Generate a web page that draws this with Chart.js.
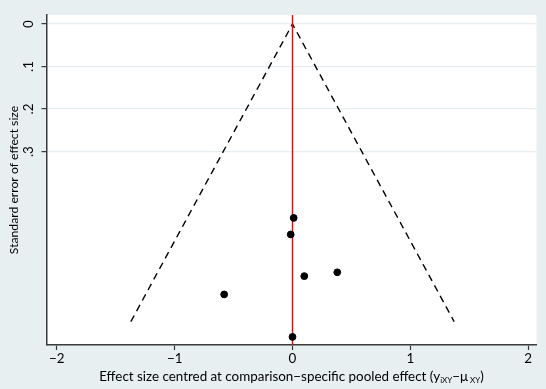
<!DOCTYPE html>
<html>
<head>
<meta charset="utf-8">
<script src="https://cdn.jsdelivr.net/npm/chart.js@4"></script>
<style>
  html, body { margin: 0; padding: 0; background: #e8eff1; }
  canvas { display: block; }
</style>
</head>
<body>
<canvas id="chart" width="546" height="389"></canvas>
<script>
  // 研究ごとの効果量（比較別プール効果で中心化）と標準誤差
  var studyEffect = [0.01, -0.015, 0.10, 0.38, -0.58, 0.0];
  var studyError = [0.456, 0.495, 0.593, 0.584, 0.636, 0.736];

  // ファンネル（擬似95%信頼限界）
  var funnelX = [-1.372, 0, 1.372];
  var funnelY = [0.70, 0, 0.70];

  // 目盛
  var xTicks = [-2, -1, 0, 1, 2];
  var yTicks = [0, 0.1, 0.2, 0.3];

  var xRange = [-2.088, 2.071];
  var yRange = [-0.0212, 0.755];

  var BG = '#e8eff1';
  var AXIS = '#3a3a3a';
  var FONT = 'Lato';

  function toPoints(xs, ys) {
    return xs.map(function(x, i) { return { x: x, y: ys[i] }; });
  }

  function minus(v) {
    return v < 0 ? '\u2212' + Math.abs(v) : String(v);
  }

  /** 背景とプロット領域 */
  var backgroundPlugin = {
    id: 'stataBackground',
    beforeDraw: function(chart) {
      var ctx = chart.ctx;
      var a = chart.chartArea;
      ctx.save();
      ctx.fillStyle = BG;
      ctx.fillRect(0, 0, chart.width, chart.height);
      ctx.fillStyle = '#ffffff';
      ctx.fillRect(a.left, a.top, a.right - a.left, a.bottom - a.top);
      ctx.restore();
    }
  };

  /** x軸タイトル（添字つき） */
  var xTitlePlugin = {
    id: 'xTitle',
    afterDraw: function(chart) {
      var ctx = chart.ctx;
      var a = chart.chartArea;
      var parts = [
        { t: 'Effect size centred at comparison\u2212specific pooled effect (y', s: 13.4, dy: 0 },
        { t: 'iXY', s: 8, dy: 2 },
        { t: '\u2212\u03bc', s: 13.4, dy: 0 },
        { t: ' XY', s: 8, dy: 2 },
        { t: ')', s: 13.4, dy: 0 }
      ];
      ctx.save();
      ctx.fillStyle = '#000';
      ctx.textBaseline = 'alphabetic';
      ctx.textAlign = 'left';
      var total = 0;
      parts.forEach(function(p) {
        ctx.font = p.s + 'px ' + FONT;
        p.w = ctx.measureText(p.t).width;
        total += p.w;
      });
      var x = (a.left + a.right) / 2 - total / 2;
      var y = 381;
      parts.forEach(function(p) {
        ctx.font = p.s + 'px ' + FONT;
        ctx.fillText(p.t, x, y + p.dy);
        x += p.w;
      });
      ctx.restore();
    }
  };

  new Chart(document.getElementById('chart'), {
    type: 'scatter',
    data: {
      datasets: [
        {
          label: 'studies',
          data: toPoints(studyEffect, studyError),
          backgroundColor: '#000',
          borderColor: '#000',
          pointRadius: 3.4,
          order: 0
        },
        {
          label: 'null',
          data: [{ x: 0, y: yRange[0] }, { x: 0, y: yRange[1] }],
          showLine: true,
          borderColor: '#ff0000',
          borderWidth: 1.4,
          pointRadius: 0,
          order: 1
        },
        {
          label: 'funnel',
          data: toPoints(funnelX, funnelY),
          showLine: true,
          borderColor: '#000',
          borderWidth: 1.4,
          borderDash: [7, 5],
          pointRadius: 0,
          order: 2
        }
      ]
    },
    options: {
      responsive: false,
      devicePixelRatio: 1,
      animation: false,
      layout: { padding: { top: 7, right: 9.5, bottom: 0, left: 0 } },
      plugins: {
        legend: { display: false },
        tooltip: { enabled: false }
      },
      scales: {
        x: {
          type: 'linear',
          min: xRange[0],
          max: xRange[1],
          afterBuildTicks: function(scale) {
            scale.ticks = xTicks.map(function(v) { return { value: v }; });
          },
          afterFit: function(scale) { scale.height = 44; },
          border: { color: AXIS, width: 1.5 },
          grid: { drawOnChartArea: false, tickLength: 5, tickColor: AXIS, tickWidth: 1.2 },
          ticks: {
            color: '#000',
            padding: 1,
            maxRotation: 0,
            font: { family: FONT, size: 13.4 },
            callback: function(v) { return minus(v); }
          }
        },
        y: {
          type: 'linear',
          reverse: true,
          min: yRange[0],
          max: yRange[1],
          afterBuildTicks: function(scale) {
            scale.ticks = yTicks.map(function(v) { return { value: v }; });
          },
          afterFit: function(scale) { scale.width = 46.5; },
          border: { color: AXIS, width: 1.5 },
          grid: { color: '#e6eef1', lineWidth: 1.2, tickLength: 5, tickColor: AXIS, tickWidth: 1.2 },
          ticks: {
            color: '#000',
            padding: 7,
            minRotation: 90,
            maxRotation: 90,
            crossAlign: 'center',
            font: { family: FONT, size: 13.4 },
            callback: function(v) { return v === 0 ? '0' : String(v).replace(/^0/, ''); }
          },
          title: {
            display: true,
            text: 'Standard error of effect size',
            color: '#000',
            font: { family: FONT, size: 12.2 },
            padding: { top: 7, bottom: 0 }
          }
        }
      }
    },
    plugins: [backgroundPlugin, xTitlePlugin]
  });
</script>
</body>
</html>
